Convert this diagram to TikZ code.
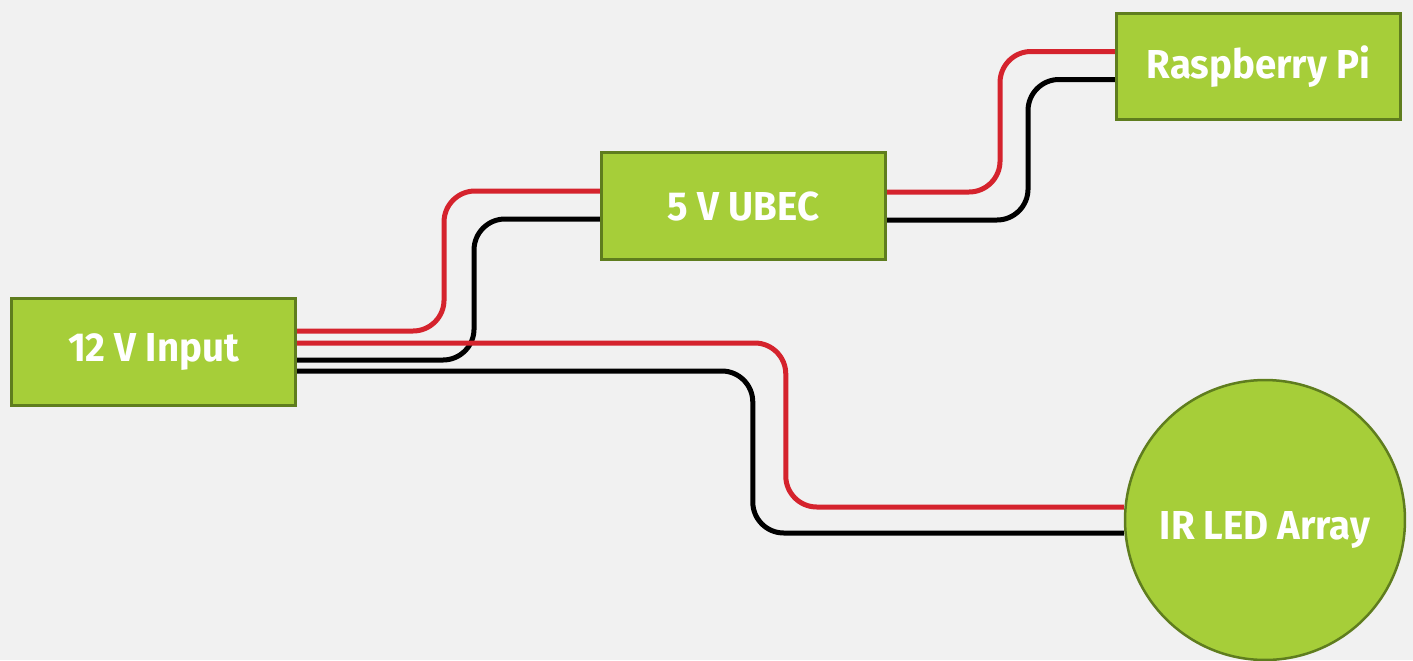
\documentclass[tikz,border=0pt]{standalone}
\usepackage{fontspec}
\setmainfont{Fira Sans}[FakeStretch=0.95]
\usetikzlibrary{calc}
\definecolor{bgc}{RGB}{241,241,241}
\definecolor{boxfill}{RGB}{166,206,57}
\definecolor{boxline}{RGB}{95,125,30}
\definecolor{wirered}{RGB}{213,35,45}
\pgfdeclarelayer{back}
\pgfdeclarelayer{bg}
\pgfsetlayers{back,bg,main}
\begin{document}
\begin{tikzpicture}[x=0.02cm,y=-0.02cm,
  lbl/.style={text=white,font=\fontsize{23}{27}\selectfont\bfseries},
  box/.style={draw=boxline,fill=boxfill,line width=0.06cm,minimum width=5.68cm,minimum height=2.14cm,inner sep=0pt,lbl},
  circ/.style={circle,draw=boxline,fill=boxfill,line width=0.05cm,minimum size=5.6cm,inner sep=0pt},
  wire/.style={line width=0.1cm,rounded corners=0.62cm},
  rw/.style={wire,draw=wirered},
  kw/.style={wire,draw=black}]
\begin{pgfonlayer}{back}
\fill[bgc] (0,0) rectangle (1413,660);
\end{pgfonlayer}
\useasboundingbox (0,0) rectangle (1413,660);
\node[box] (in) at (153.5,352) {12 V Input};
\node[box] (ubec) at (743.5,206) {5 V UBEC};
\node[box] (rpi) at (1258.5,66.5) {Raspberry Pi};
\node[circ] (led) at (1265,520) {};
\node[lbl] (ledtext) at ($(led.center)+(0,10)$) {IR LED Array};
\coordinate (r1e) at ($(ubec.west)+(0,-15)$);
\coordinate (b1e) at ($(ubec.west)+(0,13)$);
\coordinate (r2e) at ($(led.west)+(0,-13)$);
\coordinate (b2e) at ($(led.west)+(0,13)$);
\coordinate (r3e) at ($(rpi.west)+(0,-15)$);
\coordinate (b3e) at ($(rpi.west)+(0,13)$);
\begin{pgfonlayer}{bg}
\draw[rw] ($(in.east)+(0,-21)$) -| ($(r1e)+(-156,0)$) -- (r1e);
\draw[kw] ($(in.east)+(0,8)$) -| ($(b1e)+(-126,0)$) -- (b1e);
\draw[rw] ($(in.east)+(0,-9)$) -| ($(r2e)+(-338,0)$) -- (r2e);
\draw[kw] ($(in.east)+(0,19)$) -| ($(b2e)+(-371,0)$) -- (b2e);
\draw[rw] ($(ubec.east)+(0,-14)$) -| ($(r3e)+(-115,0)$) -- (r3e);
\draw[kw] ($(ubec.east)+(0,14)$) -| ($(b3e)+(-87,0)$) -- (b3e);
\end{pgfonlayer}
\end{tikzpicture}
\end{document}
